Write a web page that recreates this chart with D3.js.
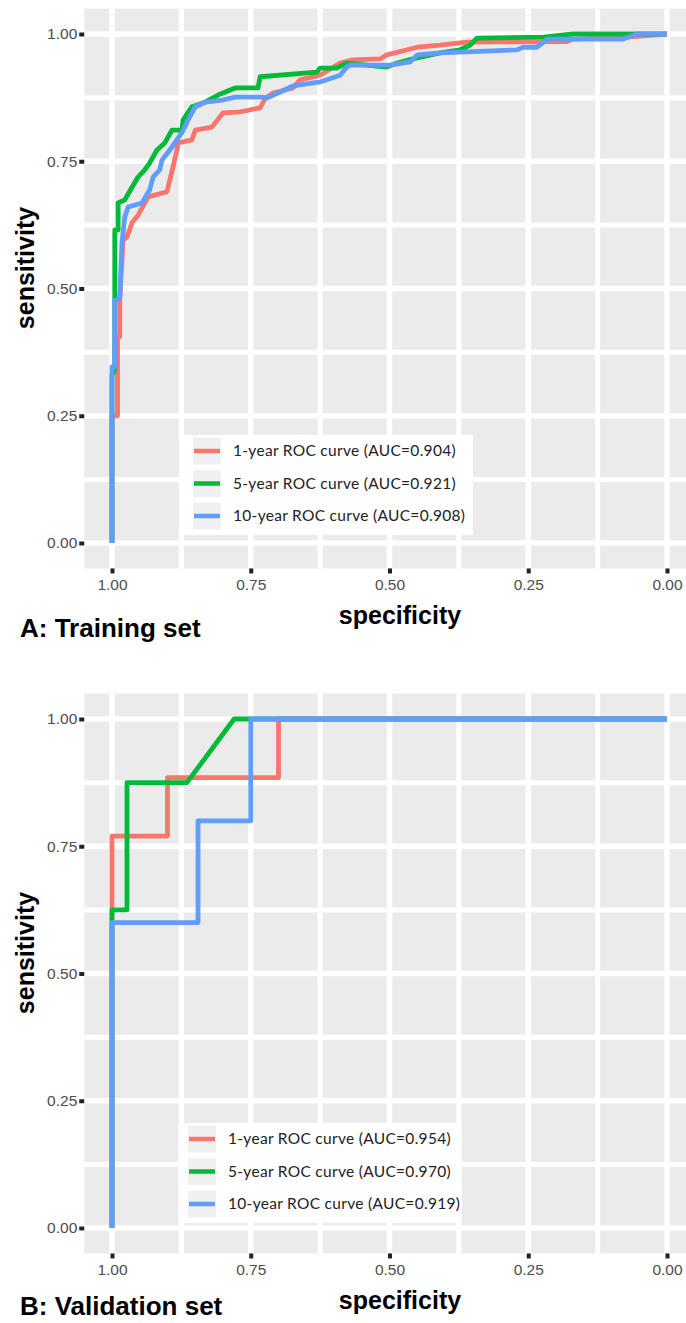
<!DOCTYPE html>
<html>
<head>
<meta charset="utf-8">
<script src="https://cdn.jsdelivr.net/npm/d3@7"></script>
<style>
  body { margin: 0; background: #fff; }
  svg { display: block; }
</style>
</head>
<body>
<script>
var width = 686, height = 1323;

// tick values / labels (shared by both panels)
const tickVals = [1, 0.75, 0.5, 0.25, 0];
const tickLabels = ["1.00", "0.75", "0.50", "0.25", "0.00"];
const minorVals = [0.875, 0.625, 0.375, 0.125];

// series names + colours (ggplot hue)
const seriesNames = ["1-year", "5-year", "10-year"];
const seriesColors = ["#F8766D", "#00BA38", "#619CFF"];

// A: training set, [specificity, sensitivity]
const train1 = [[1,0],[1,0.25],[0.99,0.25],[0.99,0.405],[0.986,0.405],[0.986,0.48],[0.98,0.595],[0.973,0.601],
  [0.964,0.629],[0.953,0.644],[0.941,0.668],[0.935,0.68],[0.901,0.69],[0.89,0.739],[0.883,0.772],[0.881,0.786],
  [0.856,0.792],[0.85,0.811],[0.82,0.817],[0.8,0.845],[0.769,0.847],[0.733,0.855],[0.724,0.874],[0.71,0.884],
  [0.674,0.894],[0.661,0.91],[0.625,0.919],[0.589,0.943],[0.566,0.949],[0.517,0.951],[0.505,0.959],[0.468,0.969],
  [0.45,0.974],[0.409,0.978],[0.36,0.984],[0.18,0.985],[0.17,0.99],[0.06,0.995],[0,1]];
const train5 = [[1,0],[1,0.33],[0.995,0.34],[0.995,0.615],[0.989,0.615],[0.989,0.668],[0.977,0.674],[0.964,0.699],
  [0.953,0.719],[0.941,0.733],[0.932,0.747],[0.919,0.772],[0.905,0.786],[0.892,0.811],[0.874,0.811],[0.872,0.831],
  [0.856,0.857],[0.832,0.866],[0.809,0.88],[0.778,0.894],[0.737,0.894],[0.733,0.916],[0.631,0.925],[0.625,0.933],
  [0.595,0.933],[0.577,0.943],[0.505,0.935],[0.486,0.943],[0.458,0.951],[0.409,0.963],[0.373,0.969],[0.355,0.978],
  [0.342,0.992],[0.223,0.994],[0.169,1],[0,1]];
const train10 = [[1,0],[1,0.346],[0.995,0.346],[0.995,0.477],[0.986,0.48],[0.982,0.589],[0.977,0.64],[0.971,0.66],
  [0.946,0.668],[0.932,0.694],[0.926,0.719],[0.914,0.733],[0.91,0.752],[0.892,0.778],[0.874,0.806],[0.863,0.831],
  [0.85,0.857],[0.832,0.866],[0.802,0.87],[0.778,0.876],[0.73,0.876],[0.721,0.874],[0.697,0.886],[0.674,0.898],
  [0.625,0.906],[0.613,0.91],[0.589,0.919],[0.577,0.935],[0.571,0.939],[0.499,0.939],[0.463,0.945],[0.45,0.959],
  [0.409,0.963],[0.36,0.965],[0.27,0.969],[0.259,0.974],[0.234,0.974],[0.216,0.99],[0.079,0.99],[0.054,1],[0,1]];
const trainAUC = ["0.904", "0.921", "0.908"];

// B: validation set
const valid1 = [[1,0],[1,0.77],[0.9,0.77],[0.9,0.885],[0.7,0.885],[0.7,1],[0,1]];
const valid5 = [[1,0],[1,0.6],[1,0.625],[0.973,0.625],[0.973,0.875],[0.865,0.875],[0.78,1],[0,1]];
const valid10 = [[1,0],[1,0.6],[0.845,0.6],[0.845,0.8],[0.75,0.8],[0.75,1],[0,1]];
const validAUC = ["0.954", "0.970", "0.919"];

var svg = d3.select("body").append("svg")
  .attr("width", width).attr("height", height);

function panel(cfg) {
  var x = d3.scaleLinear().domain([1.05, -0.05]).range([cfg.x1 - 27.75, cfg.x0 + 27.75]);
  var y = d3.scaleLinear().domain([-0.05, 1.05]).range([cfg.y0 + 25.45, cfg.y1 - 25.45]);
  var g = svg.append("g");

  g.append("rect")
    .attr("x", x(1.05)).attr("y", y(1.05))
    .attr("width", x(-0.05) - x(1.05)).attr("height", y(-0.05) - y(1.05))
    .attr("fill", "#EBEBEB");

  // grid
  g.selectAll(".gx").data(minorVals.concat(tickVals)).enter().append("line")
    .attr("x1", d => x(d)).attr("x2", d => x(d))
    .attr("y1", y(1.05)).attr("y2", y(-0.05))
    .attr("stroke", "#fff").attr("stroke-width", (d, i) => i < 4 ? 5 : 5.5);
  g.selectAll(".gy").data(minorVals.concat(tickVals)).enter().append("line")
    .attr("y1", d => y(d)).attr("y2", d => y(d))
    .attr("x1", x(1.05)).attr("x2", x(-0.05))
    .attr("stroke", "#fff").attr("stroke-width", (d, i) => i < 4 ? 5 : 5.5);

  // curves
  var line = d3.line().x(d => x(d[0])).y(d => y(d[1]));
  cfg.series.forEach(function (s, i) {
    g.append("path").attr("d", line(s))
      .attr("fill", "none").attr("stroke", seriesColors[i])
      .attr("stroke-width", 4.8).attr("stroke-linejoin", "round");
  });

  // axes
  var yAxis = d3.axisLeft(y).tickValues(tickVals)
    .tickFormat((d, i) => tickLabels[i]).tickSize(5).tickPadding(2);
  var ya = g.append("g").attr("transform", "translate(" + x(1.05) + ",0)").call(yAxis);
  var xAxis = d3.axisBottom(x).tickValues(tickVals)
    .tickFormat((d, i) => tickLabels[i]).tickSize(5).tickPadding(6);
  var xa = g.append("g").attr("transform", "translate(0," + y(-0.05) + ")").call(xAxis);
  [ya, xa].forEach(function (a) {
    a.select(".domain").remove();
    a.selectAll(".tick line").attr("stroke", "#222").attr("stroke-width", 4);
    a.selectAll(".tick text").attr("fill", "#4D4D4D")
      .style("font-family", "Liberation Sans, Arial, sans-serif").style("font-size", "15.5px");
  });

  // axis titles
  g.append("text").attr("transform", "translate(34," + (cfg.y1 + 234) + ") rotate(-90)")
    .attr("text-anchor", "middle").style("font-family", "Liberation Sans, Arial, sans-serif")
    .style("font-size", "25px").style("font-weight", "bold").text("sensitivity");
  g.append("text").attr("x", 400).attr("y", cfg.y0 + 81)
    .attr("text-anchor", "middle").style("font-family", "Liberation Sans, Arial, sans-serif")
    .style("font-size", "25px").style("font-weight", "bold").text("specificity");
  g.append("text").attr("x", 20).attr("y", Math.min(cfg.y0 + 94, height - 8))
    .style("font-family", "Liberation Sans, Arial, sans-serif")
    .style("font-size", "26px").style("font-weight", "bold").text(cfg.title);

  // legend
  var L = cfg.legend;
  g.append("rect").attr("x", L.x).attr("y", L.y).attr("width", L.w).attr("height", 100)
    .attr("fill", "#fff");
  seriesNames.forEach(function (n, i) {
    var cy = L.y + 16 + i * 32.5;
    g.append("rect").attr("x", L.x + 10).attr("y", cy - 13.5).attr("width", 28).attr("height", 27)
      .attr("fill", "#F0F0F0");
    g.append("line").attr("x1", L.x + 11).attr("x2", L.x + 37).attr("y1", cy).attr("y2", cy)
      .attr("stroke", seriesColors[i]).attr("stroke-width", 4.5);
    g.append("text").attr("x", L.x + 50).attr("y", cy + 5)
      .attr("fill", "#222").style("font-family", "Lato, sans-serif").style("font-size", "15.5px")
      .style("letter-spacing", "0.3px")
      .text(n + " ROC curve (AUC=" + cfg.auc[i] + ")");
  });
}

panel({ x1: 112, x0: 667, y1: 34, y0: 543, series: [train1, train5, train10], auc: trainAUC,
  title: "A: Training set", legend: { x: 183, y: 435, w: 290 } });
panel({ x1: 112, x0: 667, y1: 719, y0: 1228, series: [valid1, valid5, valid10], auc: validAUC,
  title: "B: Validation set", legend: { x: 178, y: 1123, w: 284 } });
</script>
</body>
</html>
